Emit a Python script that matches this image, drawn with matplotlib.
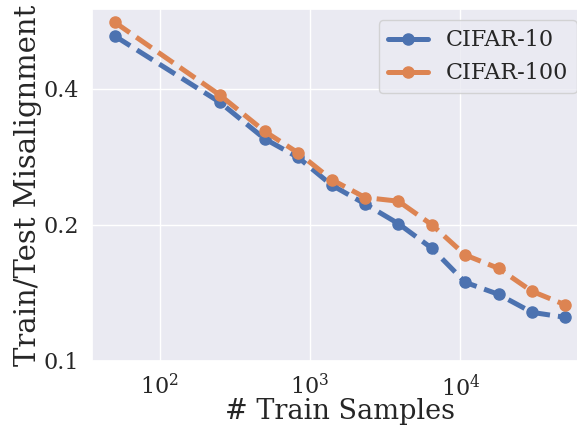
import matplotlib
matplotlib.use("Agg")
import matplotlib.pyplot as plt
import seaborn as sns
from matplotlib.ticker import NullLocator, FixedLocator, FixedFormatter

sns.set_theme(style="darkgrid")
plt.rcParams["font.family"] = ["DejaVu Serif"]

# number of training samples per run
train_samples = [50, 250, 500, 834, 1391, 2321, 3871, 6458, 10772, 17970, 29976, 50000]

# train/test misalignment per dataset
cifar10 = [0.524, 0.374, 0.310, 0.282, 0.245, 0.2226, 0.2013, 0.1776, 0.1493, 0.1404, 0.1281, 0.1249]
cifar100 = [0.562, 0.388, 0.322, 0.2886, 0.252, 0.230, 0.2257, 0.2002, 0.1716, 0.1603, 0.1426, 0.1331]

y_ticks = [0.1, 0.2, 0.4]
y_ticklabels = ["0.1", "0.2", "0.4"]

fig = plt.figure(figsize=(5.77, 4.26), dpi=100)
ax = fig.add_axes([0.1594, 0.1526, 0.8596, 0.8256])

style = dict(linestyle="--", marker="o", linewidth=3.6, markersize=8)
ax.plot(train_samples, cifar10, label="CIFAR-10", **style)
ax.plot(train_samples, cifar100, label="CIFAR-100", **style)

ax.set_xscale("log")
ax.set_yscale("log")
ax.set_ylim(0.1, 0.6)
ax.yaxis.set_major_locator(FixedLocator(y_ticks))
ax.yaxis.set_major_formatter(FixedFormatter(y_ticklabels))
ax.yaxis.set_minor_locator(NullLocator())
ax.xaxis.set_minor_locator(NullLocator())

ax.tick_params(labelsize=16, pad=3.5)
ax.set_xlabel("# Train Samples", fontsize=19.5, labelpad=-2)
ax.set_ylabel("Train/Test Misalignment", fontsize=21, labelpad=1)

leg = ax.legend(loc="upper right", fontsize=16, handlelength=1.8)
for line in leg.get_lines():
    line.set_linestyle("-")

fig.savefig("out.png", dpi=100)
